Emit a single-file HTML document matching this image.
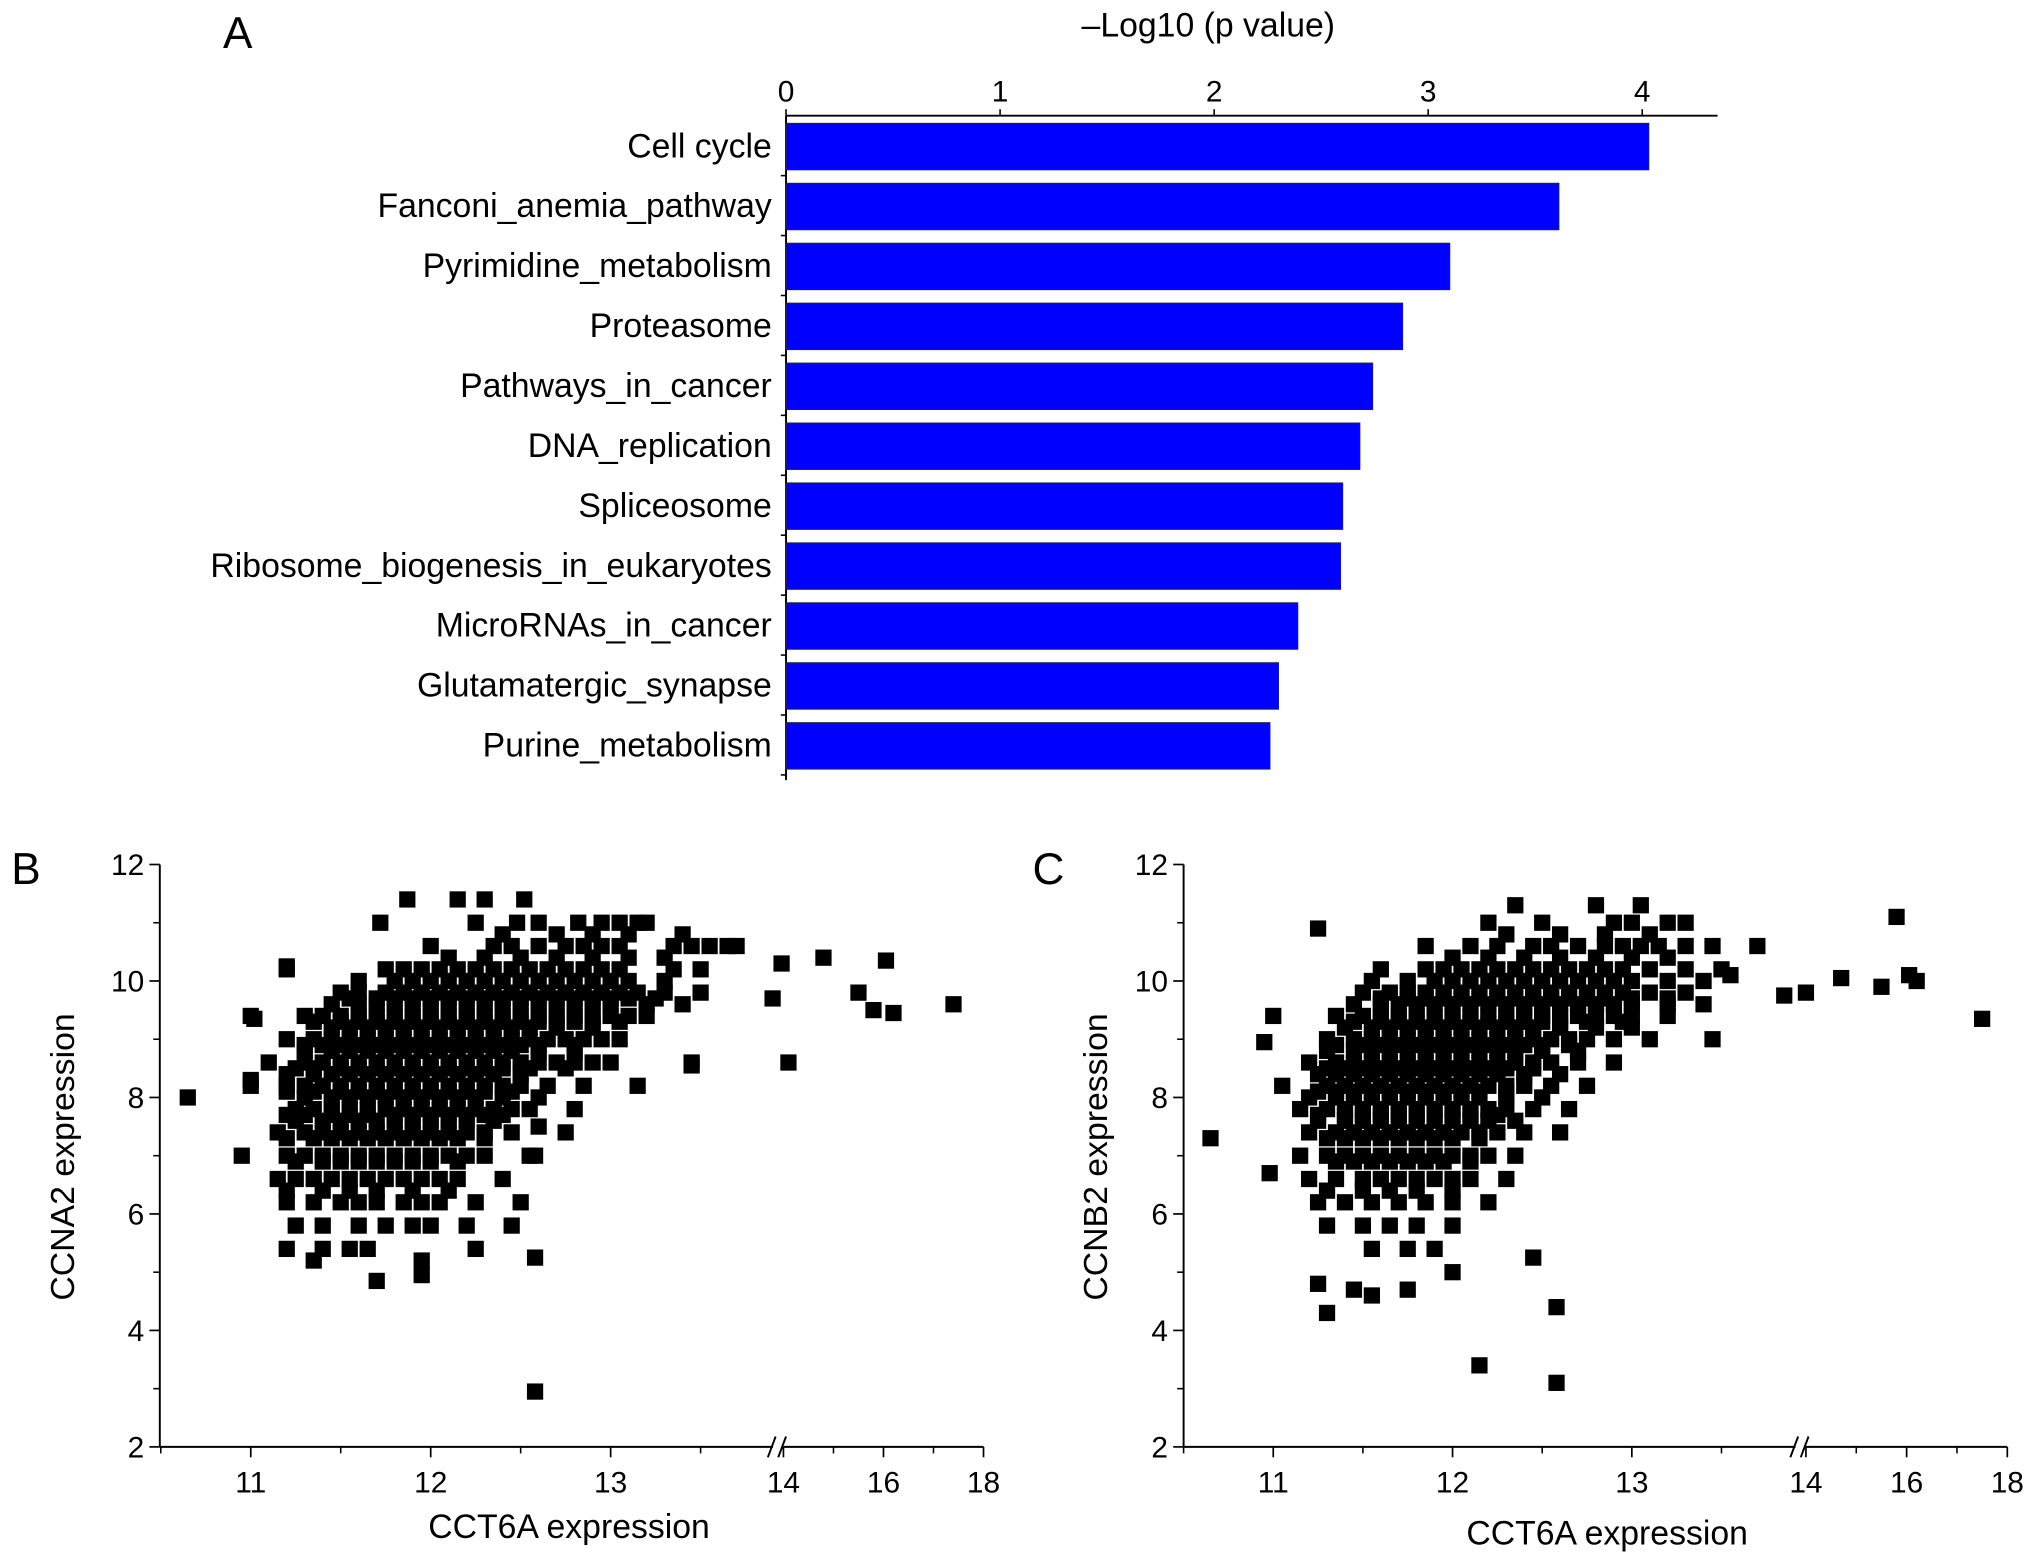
<!DOCTYPE html>
<html><head><meta charset="utf-8"><style>
html,body{margin:0;padding:0;background:#fff;}
svg{display:block;font-family:"Liberation Sans",Arial,sans-serif;}
</style></head><body>
<svg id="fig" width="2032" height="1560" viewBox="0 0 1564 1200" preserveAspectRatio="none" xmlns="http://www.w3.org/2000/svg">
<g id="panelA"></g>
<g id="panelB"></g>
<g id="panelC"></g>
</svg>
<script>
// ---------- Panel A data ----------
const pathways = ["Cell cycle","Fanconi_anemia_pathway","Pyrimidine_metabolism","Proteasome","Pathways_in_cancer","DNA_replication","Spliceosome","Ribosome_biogenesis_in_eukaryotes","MicroRNAs_in_cancer","Glutamatergic_synapse","Purine_metabolism"];
const logP = [4.03,3.61,3.10,2.88,2.74,2.68,2.60,2.59,2.39,2.30,2.26];
const barTicks = [0,1,2,3,4];

// ---------- Panel B data (rows of CCT6A values at a given CCNA2 level) ----------
const rowYB = [11.4,11.0,10.6,10.2,9.8,9.4,9.0,8.6,8.2,7.8,7.4,7.0,6.6,6.2,5.8,5.4,9.2,8.8,8.4,8.0,7.6,9.6,10.0,
               9.7,9.3,8.9,8.5,8.1,7.7,7.3,6.9,6.4,10.4,10.8];
const rowXB = [
[11.87,12.15,12.3,12.52],
[11.72,12.25,12.48,12.6,12.82,12.95,13.05,13.15,13.2],
[12.0,12.35,12.45,12.6,12.75,12.85,12.95,13.05,13.35,13.45,13.55,13.65],
[11.2,11.75,11.85,11.95,12.05,12.15,12.25,12.35,12.45,12.55,12.65,12.75,12.85,12.95,13.05,13.35,13.5],
[11.5,11.6,11.75,11.85,11.95,12.05,12.15,12.25,12.35,12.45,12.55,12.65,12.75,12.85,12.95,13.05,13.15,13.3,13.5],
[11.0,11.3,11.4,11.5,11.6,11.7,11.8,11.9,12.0,12.1,12.2,12.3,12.4,12.5,12.6,12.7,12.8,12.9,13.0,13.1,13.2],
[11.2,11.35,11.45,11.55,11.65,11.75,11.85,11.95,12.05,12.15,12.25,12.35,12.45,12.55,12.65,12.75,12.85,12.95,13.05],
[11.1,11.3,11.4,11.5,11.6,11.7,11.8,11.9,12.0,12.1,12.2,12.3,12.4,12.5,12.6,12.7,12.8,12.9,13.0,13.45],
[11.0,11.2,11.3,11.4,11.5,11.6,11.7,11.8,11.9,12.0,12.1,12.2,12.3,12.4,12.5,12.65,12.85,13.15],
[11.25,11.35,11.45,11.55,11.65,11.75,11.85,11.95,12.05,12.15,12.25,12.35,12.45,12.55,12.8],
[11.15,11.3,11.4,11.5,11.6,11.7,11.8,11.9,12.0,12.1,12.2,12.3,12.45,12.75],
[10.95,11.2,11.3,11.4,11.5,11.6,11.7,11.8,11.9,12.0,12.1,12.2,12.3,12.55],
[11.15,11.25,11.35,11.45,11.55,11.65,11.75,11.85,11.95,12.05,12.15,12.4],
[11.2,11.35,11.5,11.6,11.7,11.85,11.95,12.05,12.25,12.5],
[11.25,11.4,11.6,11.75,11.9,12.0,12.2,12.45],
[11.2,11.4,11.55,11.65,12.25],
[11.45,11.55,11.65,11.75,11.85,11.95,12.05,12.15,12.25,12.35,12.45,12.55,12.7,12.9],
[11.3,11.45,11.55,11.65,11.75,11.85,11.95,12.05,12.15,12.25,12.35,12.45,12.6,12.8],
[11.2,11.35,11.45,11.55,11.65,11.75,11.85,11.95,12.05,12.15,12.25,12.35,12.5],
[11.3,11.45,11.55,11.65,11.75,11.85,11.95,12.05,12.15,12.25,12.4,12.6],
[11.25,11.4,11.5,11.6,11.7,11.8,11.9,12.0,12.1,12.2,12.35],
[11.45,11.6,11.7,11.8,11.9,12.0,12.1,12.2,12.3,12.4,12.5,12.6,12.7,12.8,12.9,13.0,13.2,13.4],
[11.6,11.8,11.9,12.0,12.1,12.2,12.3,12.4,12.5,12.6,12.7,12.8,12.9,13.0,13.1,13.3],
[11.55,11.7,11.8,11.9,12.0,12.1,12.2,12.3,12.4,12.5,12.6,12.7,12.8,12.9,13.0,13.1,13.25],
[11.35,11.5,11.6,11.7,11.8,11.9,12.0,12.1,12.2,12.3,12.4,12.5,12.6,12.7,12.8,12.9,13.05],
[11.3,11.4,11.5,11.6,11.7,11.8,11.9,12.0,12.1,12.2,12.3,12.4,12.5,12.6,12.8],
[11.25,11.35,11.5,11.6,11.7,11.8,11.9,12.0,12.1,12.2,12.3,12.4,12.55,12.75],
[11.2,11.35,11.5,11.6,11.7,11.8,11.9,12.0,12.1,12.2,12.3,12.45],
[11.2,11.3,11.45,11.55,11.65,11.8,11.9,12.0,12.1,12.2,12.3,12.4],
[11.2,11.35,11.45,11.55,11.65,11.75,11.85,11.95,12.05,12.15,12.3],
[11.25,11.4,11.5,11.6,11.7,11.8,11.9,12.0,12.15],
[11.2,11.4,11.55,11.7,11.9,12.1],
[12.1,12.3,12.5,12.7,12.9,13.1,13.3],
[12.4,12.7,12.9,13.1,13.4]
];
const outXB = [10.65,11.02,11.0,11.2,11.35,11.7,11.95,11.95,12.58,12.58,12.58,12.6,14.1,13.45,13.9,13.95,15.5,15.8,16.2,17.4,13.7,14.8,16.05];
const outYB = [8.0,9.35,8.3,10.25,5.2,4.85,4.95,5.2,5.25,2.95,7.0,7.5,8.6,8.55,9.7,10.3,9.8,9.5,9.45,9.6,10.6,10.4,10.35];

// ---------- Panel C data ----------
const rowYC = [11.3,11.0,10.6,10.2,9.8,9.4,9.0,8.6,8.2,7.8,7.4,7.0,6.6,6.2,5.8,5.4,9.2,8.8,8.4,8.0,7.6,9.6,10.0,
               9.7,9.3,8.9,8.5,8.1,7.7,7.3,6.9,6.4,10.4,10.8];
const rowXC = [
[12.35,12.8,13.05],
[12.2,12.5,12.9,13.0,13.2,13.3],
[11.85,12.1,12.25,12.45,12.55,12.7,12.85,12.95,13.05,13.15,13.3,13.45],
[11.6,11.85,11.95,12.05,12.15,12.25,12.35,12.45,12.55,12.65,12.75,12.85,12.95,13.1,13.3,13.5],
[11.5,11.65,11.75,11.85,11.95,12.05,12.15,12.25,12.35,12.45,12.55,12.65,12.75,12.85,12.95,13.1,13.3],
[11.35,11.5,11.6,11.7,11.8,11.9,12.0,12.1,12.2,12.3,12.4,12.5,12.6,12.7,12.8,12.9,13.0,13.2],
[11.3,11.45,11.55,11.65,11.75,11.85,11.95,12.05,12.15,12.25,12.35,12.45,12.55,12.65,12.75,12.9,13.1],
[11.2,11.35,11.45,11.55,11.65,11.75,11.85,11.95,12.05,12.15,12.25,12.35,12.45,12.55,12.7,12.9],
[11.05,11.3,11.4,11.5,11.6,11.7,11.8,11.9,12.0,12.1,12.2,12.3,12.4,12.55,12.75],
[11.15,11.3,11.4,11.5,11.6,11.7,11.8,11.9,12.0,12.1,12.2,12.3,12.45,12.65],
[11.2,11.35,11.45,11.55,11.65,11.75,11.85,11.95,12.05,12.15,12.25,12.4,12.6],
[11.15,11.3,11.4,11.5,11.6,11.7,11.8,11.9,12.0,12.1,12.2,12.35],
[11.2,11.35,11.5,11.6,11.7,11.8,11.9,12.0,12.1,12.3],
[11.25,11.4,11.55,11.7,11.85,12.0,12.2],
[11.3,11.5,11.65,11.8,12.0],
[11.55,11.75,11.9],
[11.4,11.55,11.65,11.75,11.85,11.95,12.05,12.15,12.25,12.35,12.45,12.6,12.8,13.0],
[11.3,11.45,11.55,11.65,11.75,11.85,11.95,12.05,12.15,12.25,12.35,12.5,12.7],
[11.25,11.35,11.45,11.55,11.65,11.75,11.85,11.95,12.05,12.15,12.25,12.4,12.6],
[11.2,11.35,11.45,11.55,11.65,11.75,11.85,11.95,12.05,12.15,12.3,12.5],
[11.25,11.4,11.5,11.6,11.7,11.8,11.9,12.0,12.1,12.2,12.35],
[11.45,11.6,11.7,11.8,11.9,12.0,12.1,12.2,12.3,12.4,12.5,12.6,12.7,12.8,12.9,13.0,13.2,13.4],
[11.55,11.75,11.9,12.0,12.1,12.2,12.3,12.4,12.5,12.6,12.7,12.8,12.9,13.0,13.2,13.4],
[11.6,11.75,11.85,11.95,12.05,12.15,12.25,12.35,12.45,12.55,12.65,12.75,12.85,13.0,13.2],
[11.45,11.6,11.7,11.8,11.9,12.0,12.1,12.2,12.3,12.4,12.5,12.6,12.75,12.95],
[11.35,11.5,11.6,11.7,11.8,11.9,12.0,12.1,12.2,12.3,12.4,12.5,12.65],
[11.3,11.4,11.5,11.6,11.7,11.8,11.9,12.0,12.1,12.2,12.3,12.45],
[11.25,11.35,11.45,11.55,11.65,11.75,11.85,11.95,12.05,12.15,12.3],
[11.25,11.4,11.5,11.6,11.7,11.8,11.9,12.0,12.1,12.25],
[11.3,11.4,11.5,11.6,11.7,11.8,11.9,12.0,12.15],
[11.35,11.45,11.55,11.65,11.75,11.85,11.95,12.1],
[11.3,11.5,11.65,11.8,12.0],
[12.0,12.2,12.4,12.6,12.8,13.0,13.2],
[12.3,12.6,12.85,13.1]
];
const outXC = [10.65,11.0,10.95,10.98,11.25,11.25,11.3,11.45,11.55,11.75,12.0,12.15,12.58,12.58,12.45,13.85,14.0,14.7,15.5,15.8,16.05,16.2,17.5,13.7,13.55,13.45];
const outYC = [7.3,9.4,8.95,6.7,10.9,4.8,4.3,4.7,4.6,4.7,5.0,3.4,3.1,4.4,5.25,9.75,9.8,10.05,9.9,11.1,10.1,10.0,9.35,10.6,10.1,9.0];

const xTickVals = [11,12,13,14,16,18];
const yTickVals = [2,4,6,8,10,12];

const NS = "http://www.w3.org/2000/svg";
function mk(parent, tag, attrs, text){
  const e = document.createElementNS(NS, tag);
  for (const k in attrs) e.setAttribute(k, attrs[k]);
  if (text !== undefined) e.textContent = text;
  parent.appendChild(e);
  return e;
}

// ---------- Panel A ----------
(function(){
  const g = document.getElementById('panelA');
  const x0 = 605, unit = 164.75, axY = 89, top = 89, pitch = 46.1;
  const xs = v => x0 + v*unit;
  let t = mk(g,'text',{x:183,y:37,'font-size':34,'text-anchor':'middle'},'A');
  
  
  t = mk(g,'text',{x:930,y:28,'font-size':26,'text-anchor':'middle'},'\u2013Log10 (p value)');
  
  
  let l = mk(g,'line',{x1:x0,y1:axY,x2:1322,y2:axY,stroke:'#000','stroke-width':1.5});
  
  
  barTicks.forEach(v=>{
    const tk = mk(g,'line',{x1:xs(v),y1:axY-5,x2:xs(v),y2:axY,stroke:'#000','stroke-width':1.2});
    
    
    const lb = mk(g,'text',{x:xs(v),y:78,'font-size':23,'text-anchor':'middle'},String(v));
    
    
  });
  const bottom = top + pitch*pathways.length;
  l = mk(g,'line',{x1:x0,y1:top,x2:x0,y2:bottom+4,stroke:'#000','stroke-width':1.5});
  
  
  pathways.forEach((name,i)=>{
    const yb = top + i*pitch;
    const tk = mk(g,'line',{x1:x0-4,y1:yb+pitch,x2:x0,y2:yb+pitch,stroke:'#000','stroke-width':1.2});
    
    
    const r = mk(g,'rect',{x:x0,y:yb+6,width:xs(logP[i])-x0,height:35.5,fill:'#0000ff',stroke:'#1a1a6e','stroke-width':1});
    
    
    const lb = mk(g,'text',{x:594,y:yb+32,'font-size':26,'text-anchor':'end'},name);
    
    
  });
})();

// ---------- Scatter panels ----------
function scatter(gid, cfg, rowY, rowX, outX, outY){
  const g = document.getElementById(gid);
  const xs = v => v <= 13.95 ? cfg.x11 + (v-11)*cfg.u1 : cfg.x14 + (v-14)*cfg.u2;
  const ys = v => cfg.y2 - (v-2)*cfg.uy;
  let t = mk(g,'text',{x:cfg.lx,y:680,'font-size':34,'text-anchor':'middle'},cfg.letter);
  
  
  let l = mk(g,'line',{x1:cfg.ax,y1:ys(12),x2:cfg.ax,y2:cfg.y2,stroke:'#000','stroke-width':1.5});
  
  
  l = mk(g,'line',{x1:cfg.ax,y1:cfg.y2,x2:cfg.brk-3,y2:cfg.y2,stroke:'#000','stroke-width':1.5});
  
  
  l = mk(g,'line',{x1:cfg.brk+5,y1:cfg.y2,x2:xs(18),y2:cfg.y2,stroke:'#000','stroke-width':1.5});
  
  
  const br = mk(g,'path',{d:`M${cfg.brk-7},${cfg.y2+8} L${cfg.brk-1},${cfg.y2-8} M${cfg.brk+1},${cfg.y2+8} L${cfg.brk+7},${cfg.y2-8}`,stroke:'#000','stroke-width':1.5,fill:'none'});
  
  
  yTickVals.forEach(v=>{
    const tk = mk(g,'line',{x1:cfg.ax-8,y1:ys(v),x2:cfg.ax,y2:ys(v),stroke:'#000','stroke-width':1.3});
    
    
    if (v < 12){
      const mt = mk(g,'line',{x1:cfg.ax-5,y1:ys(v+1),x2:cfg.ax,y2:ys(v+1),stroke:'#000','stroke-width':1.2});
      
      
    }
    const lb = mk(g,'text',{x:cfg.ax-12,y:ys(v)+8,'font-size':23,'text-anchor':'end'},String(v));
    
    
  });
  xTickVals.forEach(v=>{
    const tk = mk(g,'line',{x1:xs(v),y1:cfg.y2,x2:xs(v),y2:cfg.y2+8,stroke:'#000','stroke-width':1.3});
    
    
    const lb = mk(g,'text',{x:xs(v),y:cfg.y2+35,'font-size':23,'text-anchor':'middle'},String(v));
    
    
  });
  [10.5,11.5,12.5,13.5,15,17].forEach(v=>{
    const mt = mk(g,'line',{x1:xs(v),y1:cfg.y2,x2:xs(v),y2:cfg.y2+5,stroke:'#000','stroke-width':1.2});
    
    
  });
  t = mk(g,'text',{x:cfg.xlx,y:cfg.xly,'font-size':26,'text-anchor':'middle'},'CCT6A expression');
  
  
  t = mk(g,'text',{x:0,y:0,'font-size':26,'text-anchor':'middle',transform:`translate(${cfg.ylx},890) rotate(-90)`},cfg.ylabel);
  
  
  const s = 12.5;
  rowY.forEach((yv,i)=>{
    rowX[i].forEach(xv=>{
      const p = mk(g,'rect',{x:xs(xv)-s/2,y:ys(yv)-s/2,width:s,height:s,fill:'#000'});
      
      
    });
  });
  outX.forEach((xv,i)=>{
    const p = mk(g,'rect',{x:xs(xv)-s/2,y:ys(outY[i])-s/2,width:s,height:s,fill:'#000'});
    
    
  });
}
scatter('panelB',{letter:'B',lx:20,ax:123,y2:1113,uy:44.8,x11:193,u1:138.5,x14:603,u2:38.5,brk:598,xlx:438,xly:1183,ylx:57,ylabel:'CCNA2 expression'},rowYB,rowXB,outXB,outYB);
scatter('panelC',{letter:'C',lx:807,ax:911,y2:1113,uy:44.8,x11:980,u1:138,x14:1390,u2:38.75,brk:1385,xlx:1237,xly:1188,ylx:852,ylabel:'CCNB2 expression'},rowYC,rowXC,outXC,outYC);
</script>
</body></html>
